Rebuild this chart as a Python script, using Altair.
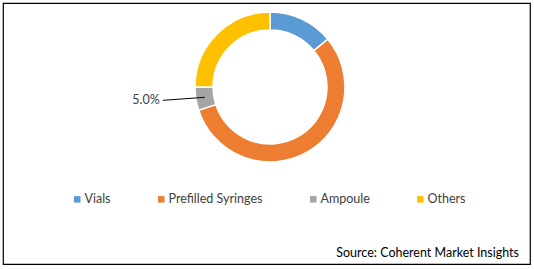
import altair as alt
import pandas as pd
import numpy as np

categories = ["Vials", "Prefilled Syringes", "Ampoule", "Others"]
shares = [14.0, 56.0, 5.0, 25.0]
colors = ["#5B9BD5", "#ED7D31", "#A5A5A5", "#FFC000"]
label_category = "Ampoule"
label_text = "5.0%"
source_text = "Source: Coherent Market Insights"

W, H = 527, 261
CX, CY = 267, 84
R_OUT, R_IN = 75, 57
FONT = "Lato"

df = pd.DataFrame({"category": categories, "share": shares, "order": range(len(categories))})

base = alt.Chart(df)
donut = base.mark_arc(outerRadius=R_OUT, innerRadius=R_IN, stroke="white", strokeWidth=1.5).encode(
    theta=alt.Theta("share:Q", stack=True),
    order=alt.Order("order:Q"),
    color=alt.Color(
        "category:N",
        scale=alt.Scale(domain=categories, range=colors),
        sort=categories,
        legend=alt.Legend(
            title=None,
            orient="none",
            legendX=68,
            legendY=190,
            direction="horizontal",
            columns=4,
            symbolType="square",
            symbolSize=42,
            symbolStrokeWidth=0,
            labelFont=FONT,
            labelFontSize=12.5,
            labelColor="#404040",
            labelOffset=1,
            columnPadding=44,
        ),
    ),
    x=alt.value(CX),
    y=alt.value(CY),
)

# leader line and label for Ampoule, computed from the data
cum = np.cumsum([0] + shares)
i = categories.index(label_category)
mid = (cum[i] + cum[i + 1]) / 2 / sum(shares) * 2 * np.pi
r_mid = (R_OUT + R_IN) / 2
sx = CX + r_mid * np.sin(mid)
sy = CY - r_mid * np.cos(mid)
ex, ey = sx - 42, sy + 3
line_df = pd.DataFrame({"x": [sx], "y": [sy], "x2": [ex], "y2": [ey]})
leader = alt.Chart(line_df).mark_rule(color="black", strokeWidth=1).encode(
    x=alt.X("x:Q", scale=None), y=alt.Y("y:Q", scale=None),
    x2="x2:Q", y2="y2:Q",
)
lab_df = pd.DataFrame({"x": [ex - 3], "y": [ey], "t": [label_text]})
label = alt.Chart(lab_df).mark_text(align="right", baseline="middle", font=FONT, fontSize=12.5, color="#404040").encode(
    x=alt.X("x:Q", scale=None), y=alt.Y("y:Q", scale=None), text="t:N"
)

src_df = pd.DataFrame({"t": [source_text]})
source = alt.Chart(src_df).mark_text(align="right", baseline="alphabetic", font=FONT, fontSize=12.5, color="#000000").encode(
    x=alt.value(516), y=alt.value(254), text="t:N"
)

chart = alt.layer(donut, leader, label, source).properties(
    width=W, height=H,
    padding={"left": 3, "top": 3, "right": 4, "bottom": 5},
    background="white",
).configure_view(stroke="black", strokeWidth=1.2)

chart.save("out.html", embed_options={"renderer": "svg", "actions": False})
